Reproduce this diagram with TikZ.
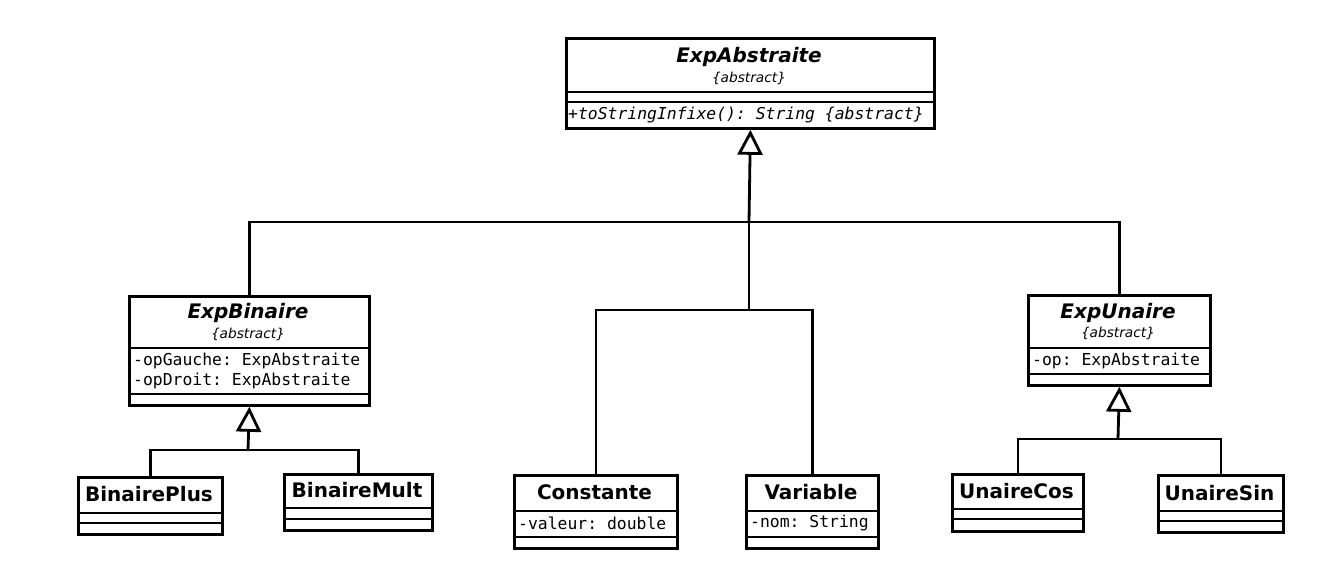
\documentclass[tikz,border=0pt]{standalone}
\usepackage{fontspec}
\setmainfont{DejaVu Sans}
\setmonofont{DejaVu Sans Mono}
\usetikzlibrary{arrows.meta}
\begin{document}
\begin{tikzpicture}[x=1pt,y=-1pt,
  cls/.style={draw,line width=2.8pt,fill=white,anchor=north west,inner sep=0pt},
  sep/.style={line width=2.8pt},
  lnk/.style={line width=2.8pt},
  inh/.style={line width=2.8pt,-{Triangle[open,length=25pt,width=25pt]}},
  ttl/.style={inner sep=0pt,font=\fontsize{20}{22}\selectfont\bfseries},
  attl/.style={inner sep=0pt,font=\fontsize{20}{22}\selectfont\bfseries\itshape},
  stereo/.style={inner sep=0pt,font=\fontsize{13.7}{15}\selectfont\itshape},
  attr/.style={inner sep=0pt,anchor=west,font=\fontsize{16.4}{18}\selectfont\ttfamily},
  meth/.style={inner sep=0pt,anchor=west,font=\fontsize{16.4}{18}\selectfont\ttfamily\itshape}]
\useasboundingbox[fill=white] (0,0) rectangle (1343,580);

% ExpAbstraite
\node[cls,minimum width=368pt,minimum height=90pt] (A) at (565,37) {};
\draw[sep] (565,92) -- (933,92) (565,102) -- (933,102);
\node[attl] (At) at (749,57) {ExpAbstraite};
\node[stereo] (As) at (749,78) {\{abstract\}};
\node[meth] (Am) at (568,115) {+toStringInfixe(): String \{abstract\}};

% ExpBinaire
\node[cls,minimum width=240pt,minimum height=109pt] (B) at (128,295) {};
\draw[sep] (128,348) -- (368,348) (128,394) -- (368,394);
\node[attl] (Bt) at (248,313) {ExpBinaire};
\node[stereo] (Bs) at (248,334) {\{abstract\}};
\node[attr] (Ba1) at (133,361) {-opGauche: ExpAbstraite};
\node[attr] (Ba2) at (133,381) {-opDroit: ExpAbstraite};

% ExpUnaire
\node[cls,minimum width=182pt,minimum height=90pt] (U) at (1027,294) {};
\draw[sep] (1027,348) -- (1209,348) (1027,374) -- (1209,374);
\node[attl] (Ut) at (1118,313) {ExpUnaire};
\node[stereo] (Us) at (1118,333) {\{abstract\}};
\node[attr] (Ua1) at (1032,361) {-op: ExpAbstraite};

% BinairePlus
\node[cls,minimum width=144pt,minimum height=57pt] (BP) at (77,476) {};
\draw[sep] (77,513) -- (221,513) (77,523) -- (221,523);
\node[ttl] (BPt) at (149,494) {BinairePlus};

% BinaireMult
\node[cls,minimum width=148pt,minimum height=56pt] (BM) at (283,473) {};
\draw[sep] (283,508) -- (431,508) (283,519) -- (431,519);
\node[ttl] (BMt) at (357,490) {BinaireMult};

% Constante
\node[cls,minimum width=163pt,minimum height=73pt] (C) at (513,474) {};
\draw[sep] (513,511) -- (676,511) (513,537) -- (676,537);
\node[ttl] (Ct) at (594.5,492) {Constante};
\node[attr] (Ca) at (518,523) {-valeur: double};

% Variable
\node[cls,minimum width=132pt,minimum height=73pt] (V) at (745,474) {};
\draw[sep] (745,511) -- (877,511) (745,537) -- (877,537);
\node[ttl] (Vt) at (811,492) {Variable};
\node[attr] (Va) at (750,523) {-nom: String};

% UnaireCos
\node[cls,minimum width=131pt,minimum height=57pt] (UC) at (951,473) {};
\draw[sep] (951,509) -- (1082,509) (951,519) -- (1082,519);
\node[ttl] (UCt) at (1016.5,491) {UnaireCos};

% UnaireSin
\node[cls,minimum width=125pt,minimum height=57pt] (US) at (1157,474) {};
\draw[sep] (1157,511) -- (1282,511) (1157,521) -- (1282,521);
\node[ttl] (USt) at (1219.5,493) {UnaireSin};

% junctions
\coordinate (jA) at (749,222);
\coordinate (jCV) at (749,310);
\coordinate (jB) at (248,450);
\coordinate (jU) at (1118,439);

% connectors
\draw[lnk] (B.north) |- (jA) -| (U.north);
\draw[lnk] (jA) -- (jCV);
\draw[lnk] (C.north) |- (jCV) -| (V.north);
\draw[lnk] (BP.north) |- (jB) -| (BM.north);
\draw[lnk] (UC.north) |- (jU) -| (US.north);
\draw[inh] (jA) -- (A.south);
\draw[inh] (jB) -- (B.south);
\draw[inh] (jU) -- (U.south);
\end{tikzpicture}
\end{document}
